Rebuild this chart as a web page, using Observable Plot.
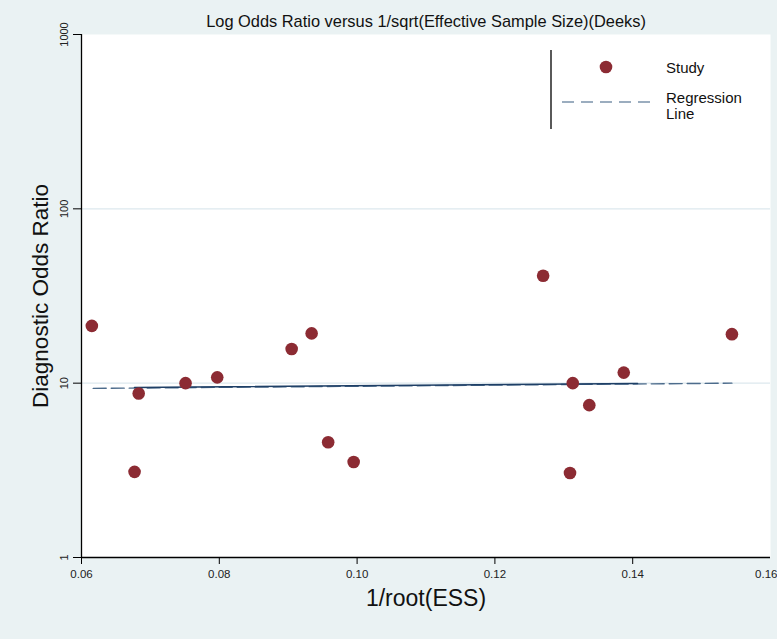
<!DOCTYPE html>
<html>
<head>
<meta charset="utf-8">
<script src="https://cdn.jsdelivr.net/npm/d3@7"></script>
<script src="https://cdn.jsdelivr.net/npm/@observablehq/plot@0.6"></script>
<style>
  html, body { margin: 0; padding: 0; background: #eaf2f3; }
  #wrap { position: relative; width: 777px; height: 639px; }
  #legend { position: absolute; left: 0; top: 0; pointer-events: none; }
</style>
</head>
<body>
<div id="wrap"></div>
<script>
// ---- data ----
const studyX   = [0.0615, 0.0677, 0.0683, 0.0751, 0.0797, 0.0905, 0.0934, 0.0958, 0.0995, 0.1270, 0.1309, 0.1313, 0.1337, 0.1387, 0.1544];
const studyDOR = [21.3,   3.10,   8.73,   10.0,   10.8,   15.7,   19.3,   4.58,   3.53,   41.3,   3.05,   10.0,   7.48,   11.5,   19.1];
const regX     = [0.0617, 0.1544];
const regDOR   = [9.33,   10.0];
const solidX   = [0.0677, 0.1407];
const solidDOR = [9.45,   9.95];
const xTicks = [0.06, 0.08, 0.10, 0.12, 0.14];
const xTickLast = [0.16];
const yTicks = [1, 10, 100, 1000];
const gridY  = [10, 100];
const title  = "Log Odds Ratio versus 1/sqrt(Effective Sample Size)(Deeks)";
const xLabel = "1/root(ESS)";
const yLabel = "Diagnostic Odds Ratio";
const legendLabels = ["Study", "Regression", "Line"];

const studies = studyX.map((x, i) => ({x, y: studyDOR[i]}));
const reg = regX.map((x, i) => ({x, y: regDOR[i]}));
const solid = solidX.map((x, i) => ({x, y: solidDOR[i]}));

const font = "'Liberation Sans', Arial, sans-serif";
const narrow = "'Liberation Sans Narrow', 'Arial Narrow', 'Liberation Sans', Arial, sans-serif";
const fmt = d3.format(".2f");

const chart = Plot.plot({
  width: 777,
  height: 639,
  marginLeft: 81,
  marginRight: 7,
  marginTop: 34,
  marginBottom: 82,
  style: {background: "#eaf2f3", fontFamily: font, fontSize: "11px", color: "#000", overflow: "visible"},
  x: {domain: [0.06, 0.16]},
  y: {type: "log", domain: [1, 1000]},
  marks: [
    Plot.frame({fill: "white", stroke: null}),
    Plot.ruleY(gridY, {stroke: "#dde8ee", strokeWidth: 1.2}),
    Plot.axisX({ticks: xTicks, tickFormat: fmt, tickSize: 7, tickPadding: 5, label: null, stroke: "#000", fill: "#222", fontSize: 11.5}),
    Plot.axisX({ticks: xTickLast, tickFormat: fmt, tickSize: 7, tickPadding: 5, label: null, stroke: "#000", fill: "#222", fontSize: 11.5, textAnchor: "end", dx: 7}),
    Plot.axisY({ticks: yTicks, tickFormat: d => String(d), tickSize: 8, tickPadding: 6, tickRotate: -90, label: null, stroke: "#000", fill: "#222", fontSize: 11}),
    Plot.ruleX([0.06], {stroke: "#000", strokeWidth: 1.3}),
    Plot.ruleY([1], {stroke: "#000", strokeWidth: 1.3}),
    Plot.line(reg, {x: "x", y: "y", stroke: "#4d6c8c", strokeWidth: 1.4, strokeDasharray: "13,5"}),
    Plot.line(solid, {x: "x", y: "y", stroke: "#1e3f66", strokeWidth: 1.6}),
    Plot.dot(studies, {x: "x", y: "y", r: 6.3, fill: "#8c2b33", stroke: null}),
    Plot.text([title], {frameAnchor: "top", dy: -19, fontSize: 16.4, fontFamily: narrow, fill: "#111"}),
    Plot.text([xLabel], {frameAnchor: "bottom", dy: 48, fontSize: 23, fontFamily: narrow, fill: "#111"}),
    Plot.text([yLabel], {frameAnchor: "left", dx: -41, rotate: -90, textAnchor: "middle", fontSize: 22.5, fontFamily: narrow, fill: "#111"})
  ]
});
document.getElementById("wrap").appendChild(chart);

// ---- legend overlay ----
const lg = d3.select("#wrap").append("svg").attr("id", "legend").attr("width", 777).attr("height", 639);
lg.append("line").attr("x1", 551).attr("x2", 551).attr("y1", 50).attr("y2", 129).attr("stroke", "#000").attr("stroke-width", 1.3);
lg.append("circle").attr("cx", 606).attr("cy", 67).attr("r", 6.3).attr("fill", "#8c2b33");
lg.append("line").attr("x1", 562).attr("x2", 652).attr("y1", 102).attr("y2", 102)
  .attr("stroke", "#7b93ab").attr("stroke-width", 1.4).attr("stroke-dasharray", "12,7");
const lt = lg.append("g").attr("font-family", font).attr("font-size", 15).attr("fill", "#111");
lt.append("text").attr("x", 666).attr("y", 73).text(legendLabels[0]);
lt.append("text").attr("x", 666).attr("y", 103).text(legendLabels[1]);
lt.append("text").attr("x", 666).attr("y", 119).text(legendLabels[2]);
</script>
</body>
</html>
